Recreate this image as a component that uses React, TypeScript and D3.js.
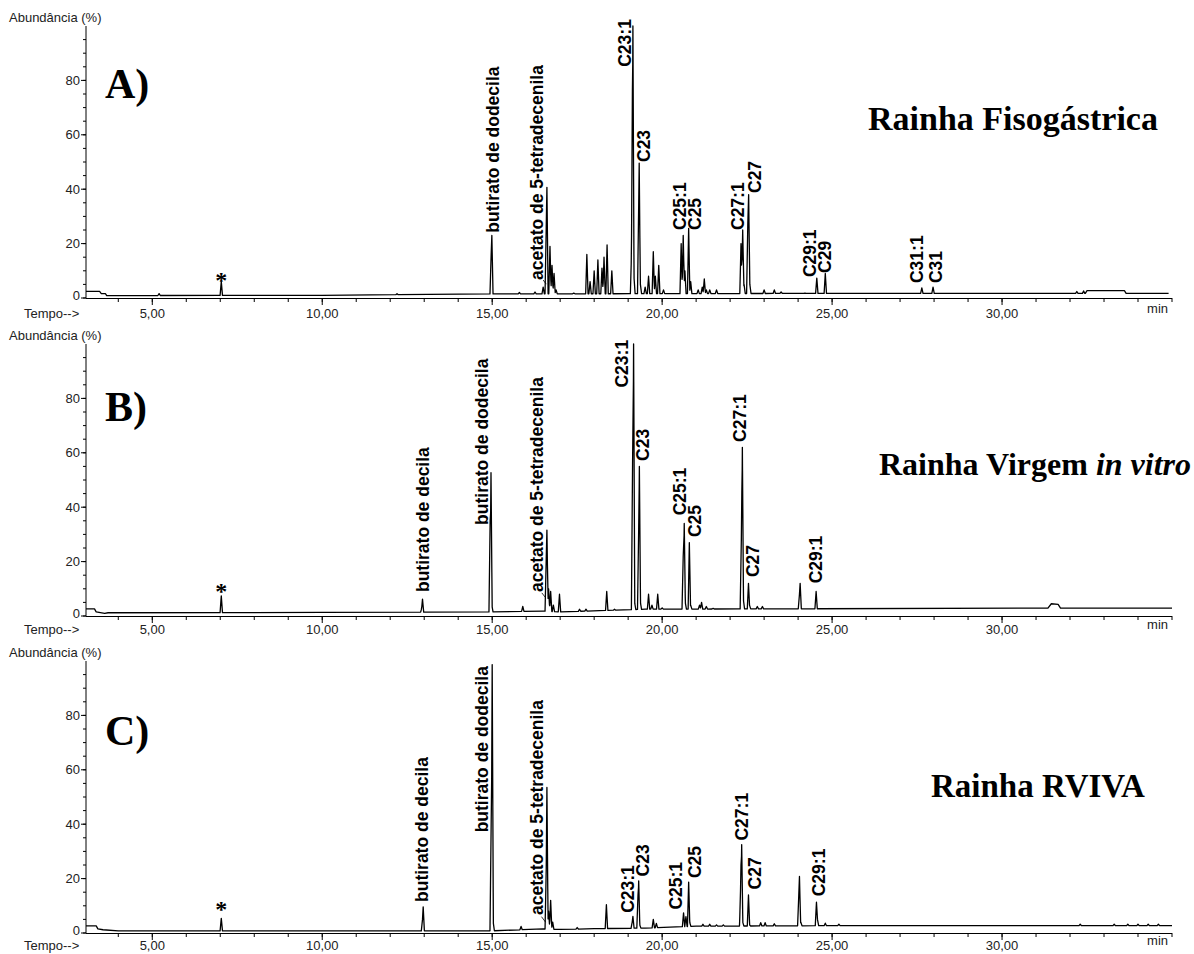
import * as d3 from 'd3';

// time axis (min) and abundance axis (%)
const X_DOMAIN = [3.05, 35];
const X_MAJOR = [5, 10, 15, 20, 25, 30];
const X_MINOR = d3.range(4, 36, 1);
const Y_MAJOR = [0, 20, 40, 60, 80];
const Y_MINOR = d3.range(0, 100, 5);

// peaks: [time, abundance]
const peaksA = [
  [5.2, 1.6], [7.03, 6], [12.2, 1.6], [14.97, 16], [14.99, 23], [15.3, 1.3], [15.8, 2], [16.26, 2.2],
  [16.5, 4], [16.59, 26], [16.61, 40.7], [16.7, 19], [16.76, 12], [16.82, 9], [16.88, 3],
  [17.4, 1.8], [17.785, 16], [17.88, 6], [18.0, 10], [18.11, 14], [18.23, 11], [18.29, 15],
  [18.38, 19.5], [18.52, 10], [19.1, 17], [19.125, 76], [19.14, 100], [19.17, 8],
  [19.31, 34], [19.325, 49.6], [19.36, 5], [19.5, 4], [19.6, 8], [19.74, 17], [19.8, 8],
  [19.9, 12], [20.04, 3], [20.56, 20], [20.62, 23], [20.67, 10], [20.78, 25.6], [20.84, 6],
  [21.06, 3], [21.18, 4], [21.24, 7], [21.3, 3], [21.4, 3], [21.6, 3],
  [22.32, 20], [22.37, 25], [22.41, 5], [22.52, 27], [22.545, 38], [22.58, 5],
  [23.0, 3], [23.3, 3], [23.5, 2.2], [24.2, 1.8], [24.55, 7.3], [24.8, 9],
  [27.64, 3.7], [27.97, 4], [32.2, 2.4], [32.4, 2.6],
];
const peaksB = [
  [7.03, 7.4], [12.93, 3], [12.95, 6.2], [14.94, 35], [14.965, 52.7], [14.99, 4], [15.9, 3.5],
  [16.59, 21], [16.61, 31.6], [16.66, 10], [16.72, 9], [16.8, 4], [16.98, 8], [17.57, 2.5],
  [17.76, 2.5], [18.37, 9], [18.6, 2.5], [19.13, 56], [19.16, 100], [19.19, 5],
  [19.31, 32], [19.33, 55], [19.36, 5], [19.6, 8], [19.7, 4], [19.87, 8], [20.0, 3],
  [20.62, 22], [20.65, 34], [20.68, 5], [20.8, 27], [20.84, 4], [21.1, 4], [21.16, 5],
  [21.3, 3.5], [21.5, 2.8], [22.33, 28], [22.345, 46], [22.36, 62], [22.39, 6],
  [22.54, 12], [22.57, 4], [22.8, 3.5], [22.95, 3.5], [24.04, 8], [24.06, 12], [24.53, 9],
];
const peaksC = [
  [7.03, 5.4], [12.95, 5], [12.97, 9.6], [14.97, 40], [14.985, 55], [15.0, 98.7], [15.03, 4],
  [15.85, 2.4], [16.59, 23], [16.6, 29.5], [16.61, 53.5], [16.66, 8], [16.72, 12], [16.78, 4],
  [17.5, 2], [18.36, 10.4], [19.12, 4], [19.14, 6.1], [19.29, 14], [19.31, 19.2], [19.34, 3],
  [19.74, 5], [19.83, 3.5], [20.63, 7.4], [20.7, 6], [20.78, 18.7], [20.81, 4],
  [21.2, 3.2], [21.4, 3.2], [21.6, 3], [21.8, 3], [22.31, 15], [22.32, 25], [22.34, 32.5],
  [22.37, 4], [22.54, 14], [22.57, 3], [22.9, 3.8], [23.03, 3.8], [23.3, 3.4],
  [24.02, 14], [24.04, 20.8], [24.08, 4], [24.54, 11.3], [24.57, 5], [24.8, 3.6], [25.2, 3.2],
  [32.3, 3.2], [33.3, 3.2], [33.7, 3.2], [34.0, 3.2], [34.3, 3.2], [34.6, 3.2],
];

// baseline level nodes: [time, abundance]
const baselineA = [
  [3.05, 2.4], [3.45, 2.4], [3.5, 1.6], [3.62, 1.6], [3.66, 0.9], [10, 1.0], [15, 1.5],
  [25, 1.7], [32.45, 1.7], [32.5, 2.7], [33.6, 2.7], [33.65, 1.7], [34.9, 1.7],
];
const baselineB = [
  [3.05, 2.6], [3.3, 2.6], [3.35, 1.5], [3.6, 1.0], [3.7, 1.2], [10, 1.3], [15, 1.5],
  [16.5, 1.8], [17, 1.5], [19.5, 2.5], [31.35, 2.9], [31.45, 4.5], [31.65, 4.3],
  [31.72, 2.9], [35, 2.9],
];
const baselineC = [
  [3.05, 2.6], [3.35, 2.6], [3.4, 1.5], [3.55, 1.2], [4.0, 0.8], [15, 0.8], [16.5, 1.5],
  [17.0, 1.3], [18.0, 1.6], [19.5, 1.8], [21, 2.5], [25, 2.7], [35, 2.7],
];

// peak labels: [text, time of label centre, abundance where text starts]
const labelsA = [
  ['butirato de dodecila', 15.0, 24], ['acetato de 5-tetradecenila', 16.32, 6.6],
  ['C23:1', 18.91, 85], ['C23', 19.47, 50], ['C25:1', 20.53, 25], ['C25', 20.97, 25],
  ['C27:1', 22.21, 25], ['C27', 22.71, 38.6], ['C29:1', 24.35, 7.7], ['C29', 24.79, 9.2],
  ['C31:1', 27.5, 5.5], ['C31', 28.06, 5.5],
];
const labelsB = [
  ['butirato de decila', 12.97, 8.8], ['butirato de dodecila', 14.68, 33.5],
  ['acetato de 5-tetradecenila', 16.32, 8.8], ['C23:1', 18.82, 84], ['C23', 19.44, 57],
  ['C25:1', 20.53, 37], ['C25', 20.97, 29], ['C27:1', 22.29, 64], ['C27', 22.65, 14.3],
  ['C29:1', 24.53, 12],
];
const labelsC = [
  ['butirato de decila', 12.92, 11.4], ['butirato de dodecila', 14.7, 37],
  ['acetato de 5-tetradecenila', 16.3, 6.6], ['C23:1', 19.0, 7.4], ['C23', 19.44, 20.8],
  ['C25:1', 20.39, 8.6], ['C25', 20.95, 20.2], ['C27:1', 22.34, 34], ['C27', 22.73, 16],
  ['C29:1', 24.62, 13.5],
];

const panels = [
  { zero: 298, tickY: 318, letter: 'A)', letterY: 98, title: ['Rainha Fisogástrica', ''], titleX: 868, titleY: 130, titleSize: 34,
    peaks: peaksA, baseline: baselineA, labels: labelsA, leader: [16.5, 6.6, 16.59, 5.1], star: 7.7 },
  { zero: 616, tickY: 634, letter: 'B)', letterY: 421, title: ['Rainha Virgem ', 'in vitro'], titleX: 879, titleY: 475, titleSize: 32,
    peaks: peaksB, baseline: baselineB, labels: labelsB, leader: [16.46, 8.5, 16.58, 6.6], star: 10.3 },
  { zero: 933, tickY: 950, letter: 'C)', letterY: 745, title: ['Rainha RVIVA', ''], titleX: 931, titleY: 797, titleSize: 33,
    peaks: peaksC, baseline: baselineC, labels: labelsC, leader: [16.45, 6, 16.57, 4], star: 10 },
];

const W = 0.035;
const x = d3.scaleLinear().domain(X_DOMAIN).range([86, 1172]);
const sans = 'Arial, "Liberation Sans", sans-serif';
const serif = '"Times New Roman", "Liberation Serif", serif';

function trace(peaks, baseline) {
  const base = d3.scaleLinear().domain(baseline.map((d) => d[0])).range(baseline.map((d) => d[1])).clamp(true);
  const ts = new Set(baseline.map((d) => d[0]));
  peaks.forEach(([t]) => { ts.add(t - W); ts.add(t); ts.add(t + W); });
  const times = Array.from(ts).filter((t) => t >= X_DOMAIN[0] && t <= 35).sort((a, b) => a - b);
  return times.map((t) => {
    const b = base(t);
    let v = b;
    peaks.forEach(([tp, h]) => {
      const d = Math.abs(t - tp);
      if (d < W) v = Math.max(v, b + (h - b) * (1 - d / W));
    });
    return [t, v];
  });
}

function Panel({ p }) {
  const y = d3.scaleLinear().domain([0, 100]).range([p.zero, p.zero - 272]);
  const line = d3.line().x((d) => x(d[0])).y((d) => y(d[1]));
  const pts = trace(p.peaks, p.baseline);
  return (
    <g>
      <text x={9} y={p.zero - 276} fontFamily={sans} fontSize={13} fill="#222">Abundância (%)</text>
      <line x1={86} x2={86} y1={p.zero} y2={y(100)} stroke="#000" />
      {Y_MINOR.map((v) => (
        <line key={'m' + v} x1={83} x2={86} y1={y(v)} y2={y(v)} stroke="#000" />
      ))}
      {Y_MAJOR.map((v) => (
        <g key={v}>
          <line x1={81} x2={86} y1={y(v)} y2={y(v)} stroke="#000" />
          <text x={80} y={y(v)} dy={v === 0 ? '0.15em' : '0.35em'} textAnchor="end" fontFamily={sans} fontSize={13} fill="#222">{v}</text>
        </g>
      ))}
      <line x1={86} x2={1172} y1={p.zero + 0.5} y2={p.zero + 0.5} stroke="#000" />
      {X_MINOR.map((t) => (
        <line key={'n' + t} x1={x(t)} x2={x(t)} y1={p.zero} y2={p.zero + 4} stroke="#000" />
      ))}
      {X_MAJOR.map((t) => (
        <g key={t}>
          <line x1={x(t)} x2={x(t)} y1={p.zero} y2={p.zero + 7} stroke="#000" />
          <text x={x(t)} y={p.tickY} textAnchor="middle" fontFamily={sans} fontSize={13} fill="#222">
            {d3.format('.2f')(t).replace('.', ',')}
          </text>
        </g>
      ))}
      <text x={24} y={p.tickY} fontFamily={sans} fontSize={13} fill="#222">Tempo--&gt;</text>
      <text x={1168} y={p.tickY - 5} textAnchor="end" fontFamily={sans} fontSize={13} fill="#222">min</text>
      <path d={line(pts)} fill="none" stroke="#000" strokeWidth={1.3} strokeLinejoin="round" />
      <text x={x(7.03)} y={y(p.star)} dy="0.45em" textAnchor="middle" fontFamily={serif} fontWeight="bold" fontSize={24}>*</text>
      {p.labels.map(([txt, t, v], i) => (
        <text key={i} transform={`translate(${x(t)},${y(v)}) rotate(-90)`} dy="0.36em"
          fontFamily={sans} fontWeight="bold" fontSize={17.5} fill="#000">{txt}</text>
      ))}
      <line x1={x(p.leader[0])} y1={y(p.leader[1])} x2={x(p.leader[2])} y2={y(p.leader[3])} stroke="#000" strokeWidth={0.8} />
      <text x={105} y={p.letterY} fontFamily={serif} fontWeight="bold" fontSize={42}>{p.letter}</text>
      <text x={p.titleX} y={p.titleY} fontFamily={serif} fontWeight="bold" fontSize={p.titleSize}>
        {p.title[0]}
        {p.title[1] && <tspan fontStyle="italic">{p.title[1]}</tspan>}
      </text>
    </g>
  );
}

export default function App() {
  return (
    <svg width={1194} height={954} style={{ position: 'absolute', left: 0, top: 0, background: '#fff' }}>
      {panels.map((p, i) => <Panel key={i} p={p} />)}
    </svg>
  );
}
